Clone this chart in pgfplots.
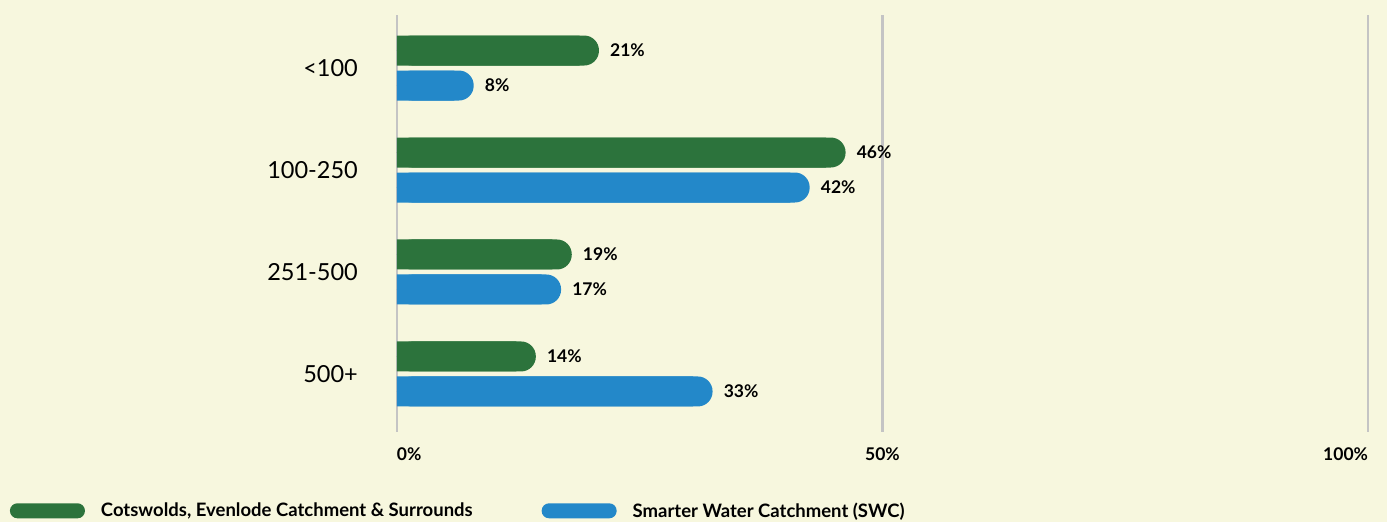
\documentclass[border=0pt]{standalone}
\usepackage{fontspec}
\setmainfont{Lato}
\usepackage{pgfplots}
\pgfplotsset{compat=1.18}
\usepackage{pgfplotstable}
\usetikzlibrary{backgrounds}
\definecolor{bg}{RGB}{247,247,222}
\definecolor{cgreen}{RGB}{44,115,60}
\definecolor{cblue}{RGB}{35,136,201}
\definecolor{cgrid}{RGB}{196,196,196}

\pgfplotstableread{
y g gl b bl
3 20.8 21 7.9 8
2 46.2 46 42.5 42
1 18.0 19 16.9 17
0 14.3 14 32.5 33
}\data

\begin{document}
\begin{tikzpicture}
\begin{axis}[
  scale only axis, width=971pt, height=417pt,
  xmin=0, xmax=100, ymin=-0.569, ymax=3.52,
  axis line style={draw=none},
  major tick length=0pt,
  xtick={0,50,100},
  xticklabels={\makebox[0pt][l]{0\%},50\%,\makebox[0pt][r]{100\%}},
  xticklabel style={font=\bfseries\fontsize{17.5}{20}\selectfont, yshift=-12pt},
  ytick={0,1,2,3},
  yticklabels={500+,251-500,100-250,<100},
  yticklabel style={font=\fontsize{23.5}{27}\selectfont, inner sep=0pt, xshift=-39pt},
  xmajorgrids, grid style={cgrid, line width=2.5pt},
  xbar, bar width=30pt,
  clip=false,
  point meta=explicit symbolic,
  nodes near coords={\pgfplotspointmeta\%},
  nodes near coords align={horizontal},
  every node near coord/.append style={font=\bfseries\fontsize{17.5}{20}\selectfont, anchor=west, inner sep=0pt, xshift=11pt, text=black},
  legend columns=2,
  legend style={at={(rel axis cs:-0.3986,-0.189)}, anchor=west, draw=none, fill=none, inner sep=0pt, outer sep=0pt,
    font=\bfseries\fontsize{18.5}{21}\selectfont,
    nodes={inner sep=0pt},
    /tikz/every odd column/.append style={column sep=16pt},
    /tikz/every even column/.append style={column sep=69pt}},
]
\addplot[draw=none, fill=cgreen, rounded corners=14.8pt, bar shift=17.5pt,
  legend image code/.code={\fill[cgreen, rounded corners=7.4pt] (0pt,-7.5pt) rectangle (75pt,7.5pt);}]
  table[x=g, y=y, meta=gl]{\data};
\addlegendentry{Cotswolds, Evenlode Catchment \& Surrounds}
\addplot[forget plot, draw=none, fill=cgreen, bar shift=17.5pt, nodes near coords={}]
  table[x expr=\thisrow{g}-2, y=y, meta=gl]{\data};
\addplot[draw=none, fill=cblue, rounded corners=14.8pt, bar shift=-17.5pt,
  legend image code/.code={\fill[cblue, rounded corners=7.4pt] (0pt,-7.5pt) rectangle (75pt,7.5pt);}]
  table[x=b, y=y, meta=bl]{\data};
\addlegendentry{Smarter Water Catchment (SWC)}
\addplot[forget plot, draw=none, fill=cblue, bar shift=-17.5pt, nodes near coords={}]
  table[x expr=\thisrow{b}-2, y=y, meta=bl]{\data};
\coordinate (BL) at (rel axis cs:-0.40886,-0.21583);
\coordinate (TR) at (rel axis cs:1.01957,1.03597);
\end{axis}
\pgfresetboundingbox
\path[use as bounding box] (BL) rectangle (TR);
\begin{scope}[on background layer]
\fill[bg] (BL) rectangle (TR);
\end{scope}
\end{tikzpicture}
\end{document}
